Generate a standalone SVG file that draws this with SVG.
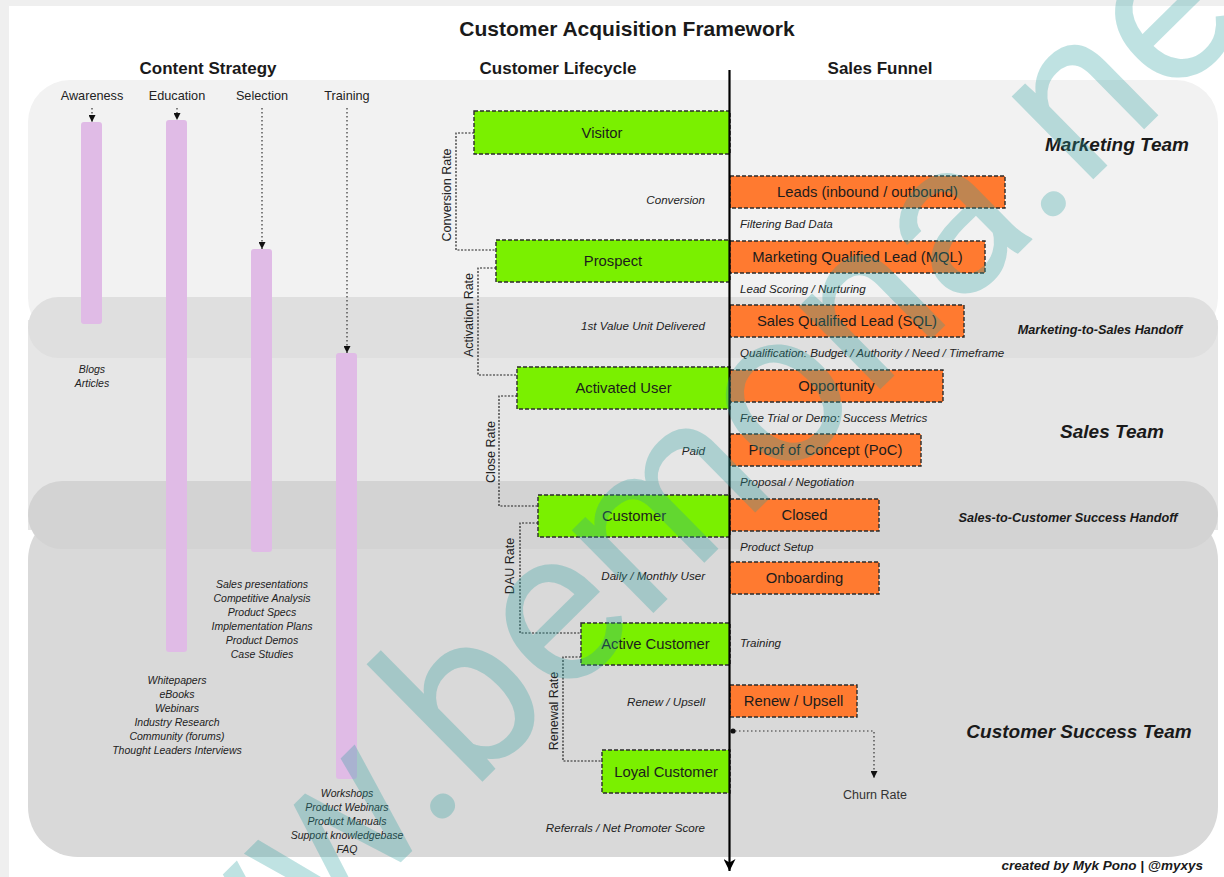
<svg xmlns="http://www.w3.org/2000/svg" width="1224" height="877" viewBox="0 0 1224 877">
<defs>
<style>
text{font-family:"Liberation Sans",Arial,Helvetica,sans-serif;fill:#1a1a1a}
.title{font-size:21px;font-weight:bold;text-anchor:middle}
.hdr{font-size:17px;font-weight:bold;text-anchor:middle}
.stage{font-size:12.7px;text-anchor:middle;fill:#222}
.bar{fill:#e0bbe6}
.list{font-size:10.5px;font-style:italic;text-anchor:middle;fill:#222}
.green{fill:#7af000;stroke:#2b2b2b;stroke-width:1.4;stroke-dasharray:4 2}
.orange{fill:#ff7a30;stroke:#2b2b2b;stroke-width:1.4;stroke-dasharray:4 2}
.nl{font-size:14.8px;text-anchor:middle;fill:#1c1c1c}
.lbl{font-size:11.6px;font-style:italic;fill:#222}
.lr{text-anchor:end}
.rate{font-size:12.5px;text-anchor:middle;fill:#222}
.team{font-size:19px;font-weight:bold;font-style:italic;text-anchor:middle}
.hand{font-size:12.7px;font-weight:bold;font-style:italic;text-anchor:middle}
.dot{fill:none;stroke:#333;stroke-width:1.2;stroke-dasharray:1.5 2.5}
.brk{fill:none;stroke:#222;stroke-width:1.2;stroke-dasharray:2 1.5}
.wm{font-family:Roboto,"Liberation Sans",sans-serif;font-weight:400;font-size:220px;fill:#2ca0a0;fill-opacity:0.3}
</style>
<marker id="ah" viewBox="0 0 10 10" refX="10" refY="5" markerWidth="7" markerHeight="7" orient="auto" markerUnits="userSpaceOnUse">
<path d="M0,0 L10,5 L0,10 z" fill="#111"/>
</marker>
<marker id="axh" viewBox="0 0 10 10" refX="10" refY="5" markerWidth="12" markerHeight="12" orient="auto" markerUnits="userSpaceOnUse">
<path d="M0,0 L10,5 L0,10 L3,5 z" fill="#000"/>
</marker>
</defs>

<g id="background">
<rect x="0" y="0" width="1224" height="877" fill="#efefef"/>
<rect x="9" y="6" width="1215" height="871" fill="#ffffff"/>
<rect x="28" y="80" width="1190" height="260" rx="42" fill="#f2f2f2"/>
<rect x="28" y="320" width="1190" height="210" fill="#e6e6e6"/>
<rect x="28" y="297" width="1190" height="61" rx="30.5" fill="#dfdfdf"/>
<rect x="28" y="510" width="1190" height="347" rx="50" fill="#d9d9d9"/>
<rect x="28" y="481" width="1190" height="68" rx="34" fill="#d3d3d3"/>
</g>

<g id="titles">
<text class="title" x="627" y="36">Customer Acquisition Framework</text>
<text class="hdr" x="208" y="74">Content Strategy</text>
<text class="hdr" x="558" y="74">Customer Lifecycle</text>
<text class="hdr" x="880" y="74">Sales Funnel</text>
</g>

<g id="teams">
<text class="team" x="1117" y="151">Marketing Team</text>
<text class="hand" x="1100" y="334">Marketing-to-Sales Handoff</text>
<text class="team" x="1112" y="438">Sales Team</text>
<text class="hand" x="1068" y="522">Sales-to-Customer Success Handoff</text>
<text class="team" x="1079" y="738">Customer Success Team</text>
<text x="1203" y="870" style="font-size:13.5px;font-weight:bold;font-style:italic;text-anchor:end">created by Myk Pono | @myxys</text>
</g>

<g id="content-strategy">
<g id="awareness">
<text class="stage" x="92" y="100">Awareness</text>
<rect class="bar" x="81" y="122" width="21" height="202" rx="3"/>
<text class="list" x="92" y="373">Blogs</text>
<text class="list" x="92" y="387">Articles</text>
</g>
<g id="education">
<text class="stage" x="177" y="100">Education</text>
<rect class="bar" x="166" y="120" width="21" height="532" rx="3"/>
<text class="list" x="177" y="684">Whitepapers</text>
<text class="list" x="177" y="698">eBooks</text>
<text class="list" x="177" y="712">Webinars</text>
<text class="list" x="177" y="726">Industry Research</text>
<text class="list" x="177" y="740">Community (forums)</text>
<text class="list" x="177" y="754">Thought Leaders Interviews</text>
</g>
<g id="selection">
<text class="stage" x="262" y="100">Selection</text>
<rect class="bar" x="251" y="249" width="21" height="303" rx="3"/>
<text class="list" x="262" y="588">Sales presentations</text>
<text class="list" x="262" y="602">Competitive Analysis</text>
<text class="list" x="262" y="616">Product Specs</text>
<text class="list" x="262" y="630">Implementation Plans</text>
<text class="list" x="262" y="644">Product Demos</text>
<text class="list" x="262" y="658">Case Studies</text>
</g>
<g id="training">
<text class="stage" x="347" y="100">Training</text>
<rect class="bar" x="336" y="353" width="21" height="426" rx="3"/>
<text class="list" x="347" y="797">Workshops</text>
<text class="list" x="347" y="811">Product Webinars</text>
<text class="list" x="347" y="825">Product Manuals</text>
<text class="list" x="347" y="839">Support knowledgebase</text>
<text class="list" x="347" y="853">FAQ</text>
</g>
</g>

<g id="lifecycle">
<g id="visitor"><rect class="green" x="474" y="111" width="256" height="43"/><text class="nl" x="602" y="138">Visitor</text></g>
<g id="prospect"><rect class="green" x="496" y="240" width="234" height="42"/><text class="nl" x="613" y="266">Prospect</text></g>
<g id="activated-user"><rect class="green" x="517" y="367" width="213" height="42"/><text class="nl" x="623.5" y="393">Activated User</text></g>
<g id="customer"><rect class="green" x="538" y="495" width="192" height="42"/><text class="nl" x="634" y="521">Customer</text></g>
<g id="active-customer"><rect class="green" x="581" y="623" width="149" height="42"/><text class="nl" x="655.5" y="649">Active Customer</text></g>
<g id="loyal-customer"><rect class="green" x="602" y="750" width="128" height="43"/><text class="nl" x="666" y="777">Loyal Customer</text></g>
</g>

<g id="funnel">
<g id="leads"><rect class="orange" x="730" y="176" width="275" height="32"/><text class="nl" x="867.5" y="197">Leads (inbound / outbound)</text></g>
<g id="mql"><rect class="orange" x="730" y="241" width="255" height="32"/><text class="nl" x="857.5" y="262">Marketing Qualified Lead (MQL)</text></g>
<g id="sql"><rect class="orange" x="730" y="305" width="234" height="32"/><text class="nl" x="847" y="326">Sales Qualified Lead (SQL)</text></g>
<g id="opportunity"><rect class="orange" x="730" y="370" width="213" height="32"/><text class="nl" x="836.5" y="391">Opportunity</text></g>
<g id="poc"><rect class="orange" x="730" y="434" width="191" height="32"/><text class="nl" x="825.5" y="455">Proof of Concept (PoC)</text></g>
<g id="closed"><rect class="orange" x="730" y="499" width="149" height="32"/><text class="nl" x="804.5" y="520">Closed</text></g>
<g id="onboarding"><rect class="orange" x="730" y="562" width="149" height="32"/><text class="nl" x="804.5" y="583">Onboarding</text></g>
<g id="renew-upsell"><rect class="orange" x="730" y="685" width="127" height="32"/><text class="nl" x="793.5" y="706">Renew / Upsell</text></g>
<g id="churn-rate"><text x="875" y="799" style="font-size:12.5px;text-anchor:middle;fill:#333">Churn Rate</text></g>
</g>

<g id="connectors">
<line class="dot" x1="92" y1="108" x2="92" y2="122" marker-end="url(#ah)"/>
<line class="dot" x1="177" y1="108" x2="177" y2="120" marker-end="url(#ah)"/>
<line class="dot" x1="262" y1="108" x2="262" y2="249" marker-end="url(#ah)"/>
<line class="dot" x1="347" y1="108" x2="347" y2="353" marker-end="url(#ah)"/>
<path class="brk" d="M474,133 H456 V250 H496"/>
<path class="brk" d="M496,268 H478 V375 H517"/>
<path class="brk" d="M517,396 H499 V506 H538"/>
<path class="brk" d="M538,523 H520 V633 H581"/>
<path class="brk" d="M581,657 H563 V761 H602"/>
<circle cx="733" cy="731" r="2.6" fill="#111"/>
<path class="dot" d="M735,731 H874 V778" marker-end="url(#ah)"/>
<line x1="729.5" y1="70" x2="729.5" y2="871" stroke="#000" stroke-width="2.2" marker-end="url(#axh)"/>
</g>

<g id="rate-labels">
<text class="rate" transform="translate(446,195) rotate(-90)" x="0" y="4.5">Conversion Rate</text>
<text class="rate" transform="translate(468,315) rotate(-90)" x="0" y="4.5">Activation Rate</text>
<text class="rate" transform="translate(490,452) rotate(-90)" x="0" y="4.5">Close Rate</text>
<text class="rate" transform="translate(509,566) rotate(-90)" x="0" y="4.5">DAU Rate</text>
<text class="rate" transform="translate(553,711) rotate(-90)" x="0" y="4.5">Renewal Rate</text>
</g>

<g id="transition-labels">
<text class="lbl lr" x="705" y="204">Conversion</text>
<text class="lbl lr" x="705" y="330">1st Value Unit Delivered</text>
<text class="lbl lr" x="705" y="455">Paid</text>
<text class="lbl lr" x="705" y="580">Daily / Monthly User</text>
<text class="lbl lr" x="705" y="706">Renew / Upsell</text>
<text class="lbl lr" x="705" y="832">Referrals / Net Promoter Score</text>
<text class="lbl" x="740" y="228">Filtering Bad Data</text>
<text class="lbl" x="740" y="293">Lead Scoring / Nurturing</text>
<text class="lbl" x="740" y="357">Qualification: Budget / Authority / Need / Timeframe</text>
<text class="lbl" x="740" y="422">Free Trial or Demo: Success Metrics</text>
<text class="lbl" x="740" y="486">Proposal / Negotiation</text>
<text class="lbl" x="740" y="551">Product Setup</text>
<text class="lbl" x="740" y="647">Training</text>
</g>

<g id="watermark">
<text class="wm" transform="translate(86.7,1171.8) rotate(-44.6)" x="0" y="0">www.bemona.net</text>
</g>
</svg>
